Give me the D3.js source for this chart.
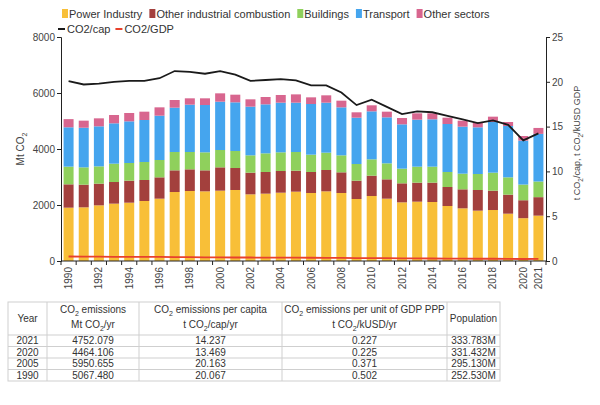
<!DOCTYPE html>
<html><head><meta charset="utf-8">
<script src="https://cdn.jsdelivr.net/npm/d3@7"></script>
<style>
html,body{margin:0;padding:0;background:#fff;}
svg{display:block;font-family:"Liberation Sans",Arial,sans-serif;}
</style></head>
<body>
<svg id="chart" width="600" height="405"></svg>
<script>
const years = d3.range(1990, 2022);
const power = [1905,1917,1988,2048,2083,2143,2226,2464,2500,2488,2512,2536,2381,2405,2440,2476,2429,2488,2429,2214,2321,2226,2095,2119,2107,1964,1881,1798,1821,1690,1530,1620];
const otherInd = [833,809,774,773,786,750,762,774,774,750,833,785,774,774,774,750,750,762,738,655,727,691,679,679,691,679,679,738,691,679,640,660];
const buildings = [632,619,618,655,631,643,619,655,619,643,619,608,619,666,667,667,619,619,607,595,583,571,524,571,571,536,559,571,643,619,560,560];
const transport = [1405,1415,1430,1441,1488,1500,1583,1583,1690,1690,1726,1738,1738,1750,1774,1762,1809,1786,1714,1655,1714,1643,1583,1679,1691,1714,1679,1667,1809,1833,1570,1700];
const otherSectors = [292,252,285,297,298,297,298,274,227,239,298,273,262,262,274,296,238,262,238,191,215,202,226,226,214,226,214,178,191,143,164,212];
const co2cap = [20.07,19.7,19.8,20.0,20.1,20.1,20.4,21.2,21.1,20.9,21.2,20.8,20.1,20.2,20.3,20.16,19.6,19.6,18.8,17.4,18.0,17.2,16.4,16.7,16.6,16.2,15.8,15.4,15.7,15.2,13.47,14.24];
const co2gdp = [0.502,0.49,0.48,0.47,0.46,0.45,0.45,0.44,0.43,0.41,0.40,0.39,0.39,0.38,0.38,0.371,0.36,0.35,0.34,0.33,0.33,0.31,0.29,0.29,0.28,0.27,0.26,0.25,0.25,0.24,0.225,0.227];
const seriesNames = ["Power Industry","Other industrial combustion","Buildings","Transport","Other sectors"];
const seriesColors = ["#f8bf38","#a3403d","#8fd05c","#45a5ee","#d8668f"];
const leftTicks = [0,2000,4000,6000,8000];
const rightTicks = [0,5,10,15,20,25];
const tableHeader = [["Year",""],["CO2 emissions","Mt CO2/yr"],["CO2 emissions per capita","t CO2/cap/yr"],["CO2 emissions per unit of GDP PPP","t CO2/kUSD/yr"],["Population",""]];
const tableRows = [
  ["2021","4752.079","14.237","0.227","333.783M"],
  ["2020","4464.106","13.469","0.225","331.432M"],
  ["2005","5950.655","20.163","0.371","295.130M"],
  ["1990","5067.480","20.067","0.502","252.530M"]
];

const svg = d3.select("#chart");
const L = 61, R = 546, T = 37, B = 261;
const x = d3.scaleBand().domain(years).range([L, R]).paddingInner(0.34).paddingOuter(0.17);
const y = d3.scaleLinear().domain([0, 8000]).range([B, T]);
const y2 = d3.scaleLinear().domain([0, 25]).range([B, T]);

const data = years.map((yr, i) => ({year: yr, s0: power[i], s1: otherInd[i], s2: buildings[i], s3: transport[i], s4: otherSectors[i]}));
const stack = d3.stack().keys(["s0","s1","s2","s3","s4"])(data);

svg.append("g").selectAll("g").data(stack).join("g")
  .attr("fill", (d, i) => seriesColors[i])
  .selectAll("rect").data(d => d).join("rect")
  .attr("x", d => x(d.data.year))
  .attr("width", x.bandwidth())
  .attr("y", d => y(d[1]))
  .attr("height", d => y(d[0]) - y(d[1]));

// lines
const lineCap = d3.line().x((d, i) => x(years[i]) + x.bandwidth() / 2).y(d => y2(d));
svg.append("path").datum(co2cap).attr("d", lineCap).attr("fill", "none").attr("stroke", "#1a1a1a").attr("stroke-width", 1.8);
svg.append("path").datum(co2gdp).attr("d", lineCap).attr("fill", "none").attr("stroke", "#e8412c").attr("stroke-width", 1.8);

// axes
const tickCol = "#444";
const gL = svg.append("g").attr("transform", `translate(${L},0)`)
  .call(d3.axisLeft(y).tickValues(leftTicks).tickFormat(d3.format("d")).tickSize(4).tickPadding(2));
const gR = svg.append("g").attr("transform", `translate(${R},0)`)
  .call(d3.axisRight(y2).tickValues(rightTicks).tickFormat(d3.format("d")).tickSize(4).tickPadding(2));
[gL, gR].forEach(g => {
  g.select(".domain").attr("stroke", "#222");
  g.selectAll(".tick line").attr("stroke", "#222");
  g.selectAll(".tick text").attr("fill", tickCol).style("font-size", "10px").style("font-family", "Liberation Sans, Arial, sans-serif");
});

// x axis
const gx = svg.append("g").attr("transform", `translate(0,${B})`);
gx.append("line").attr("x1", L).attr("x2", R).attr("stroke", "#222");
const gapHalf = (x.step() - x.bandwidth()) / 2;
gx.selectAll("line.tk").data(years.concat([2022])).join("line").attr("class", "tk")
  .attr("x1", d => d === 2022 ? x(2021) + x.bandwidth() + gapHalf : x(d) - gapHalf)
  .attr("x2", d => d === 2022 ? x(2021) + x.bandwidth() + gapHalf : x(d) - gapHalf)
  .attr("y1", 0).attr("y2", 4).attr("stroke", "#222");
const labYears = years.filter(d => d % 2 === 0 || d === 2021);
gx.selectAll("text").data(labYears).join("text")
  .attr("transform", d => `translate(${x(d) + x.bandwidth() / 2 + 3.5},6) rotate(-90)`)
  .attr("text-anchor", "end").attr("fill", tickCol).style("font-size", "10px")
  .text(d => d);

// axis titles
const lt = svg.append("text").attr("transform", "translate(24,149) rotate(-90)")
  .attr("text-anchor", "middle").attr("fill", tickCol).style("font-size", "10px");
lt.append("tspan").text("Mt CO");
lt.append("tspan").attr("dy", 3).style("font-size", "7px").text("2");

const rt = svg.append("text").attr("transform", "translate(580,143) rotate(-90)")
  .attr("text-anchor", "middle").attr("fill", tickCol).style("font-size", "9px");
rt.append("tspan").text("t CO");
rt.append("tspan").attr("dy", 2.5).style("font-size", "6.5px").text("2");
rt.append("tspan").attr("dy", -2.5).text("/cap, t CO");
rt.append("tspan").attr("dy", 2.5).style("font-size", "6.5px").text("2");
rt.append("tspan").attr("dy", -2.5).text("/kUSD GDP");

// legend
const leg = svg.append("g");
let lx = 62;
seriesNames.forEach((n, i) => {
  leg.append("rect").attr("x", lx).attr("y", 9).attr("width", 6).attr("height", 9).attr("fill", seriesColors[i]);
  const t = leg.append("text").attr("x", lx + 7).attr("y", 17.5).attr("fill", "#333").style("font-size", "11px").text(n);
  lx += 7 + t.node().getComputedTextLength() + 7;
});
const lineLeg = [["CO2/cap", "#1a1a1a"], ["CO2/GDP", "#e8412c"]];
let lx2 = 58;
lineLeg.forEach(([n, c]) => {
  leg.append("line").attr("x1", lx2).attr("x2", lx2 + 7).attr("y1", 29).attr("y2", 29).attr("stroke", c).attr("stroke-width", 2);
  const t = leg.append("text").attr("x", lx2 + 9).attr("y", 33).attr("fill", "#333").style("font-size", "11px").text(n);
  lx2 += 9 + t.node().getComputedTextLength() + 5;
});

// table
const colX = [8, 47, 139, 282, 447, 500];
const rowY = [302, 335, 346.5, 358, 369.5, 381];
const tb = svg.append("g");
tb.append("rect").attr("x", colX[0]).attr("y", rowY[0]).attr("width", colX[5] - colX[0]).attr("height", rowY[5] - rowY[0])
  .attr("fill", "none").attr("stroke", "#cfcfcf");
colX.slice(1, 5).forEach(cx => tb.append("line").attr("x1", cx).attr("x2", cx).attr("y1", rowY[0]).attr("y2", rowY[5]).attr("stroke", "#cfcfcf"));
rowY.slice(1, 5).forEach(ry => tb.append("line").attr("x1", colX[0]).attr("x2", colX[5]).attr("y1", ry).attr("y2", ry).attr("stroke", "#cfcfcf"));

function subText(sel, str) {
  const parts = str.split("CO2");
  parts.forEach((p, i) => {
    if (i > 0) {
      sel.append("tspan").text("CO");
      sel.append("tspan").attr("dy", 2.5).style("font-size", "7px").text("2");
      sel.append("tspan").attr("dy", -2.5).text(p);
    } else if (p) sel.append("tspan").text(p);
  });
}
tableHeader.forEach((h, i) => {
  const cx = (colX[i] + colX[i + 1]) / 2;
  if (!h[1]) {
    tb.append("text").attr("x", cx).attr("y", 322).attr("text-anchor", "middle").attr("fill", "#333").style("font-size", "10px").text(h[0]);
  } else {
    const t1 = tb.append("text").attr("x", cx).attr("y", 313).attr("text-anchor", "middle").attr("fill", "#333").style("font-size", "10px");
    subText(t1, h[0]);
    const t2 = tb.append("text").attr("x", cx).attr("y", 328).attr("text-anchor", "middle").attr("fill", "#333").style("font-size", "10px");
    subText(t2, h[1]);
  }
});
tableRows.forEach((r, ri) => {
  r.forEach((v, ci) => {
    tb.append("text").attr("x", (colX[ci] + colX[ci + 1]) / 2).attr("y", rowY[ri + 1] + 9)
      .attr("text-anchor", "middle").attr("fill", "#333").style("font-size", "10px").text(v);
  });
});
</script>
</body></html>
